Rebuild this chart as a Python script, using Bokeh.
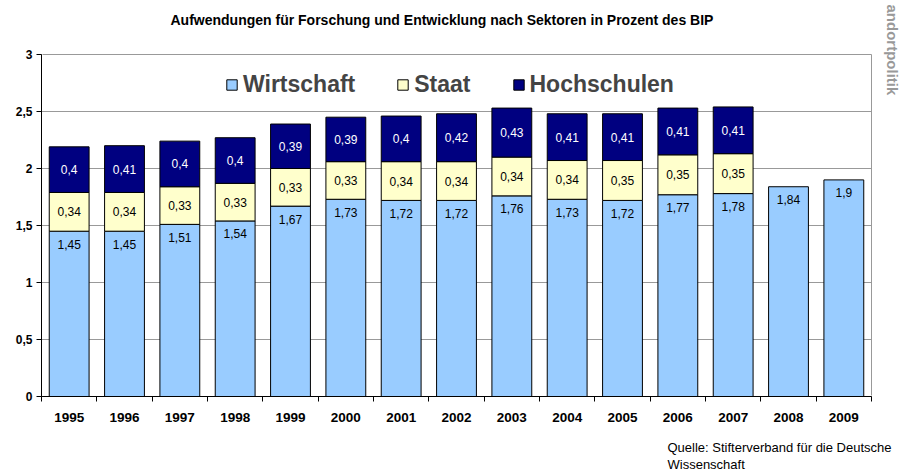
import numpy as np
from bokeh.plotting import figure
from bokeh.models import (ColumnDataSource, Range1d, FixedTicker, Legend, LegendItem, Title,
                          LinearAxis)
from bokeh.embed import file_html
from bokeh.resources import INLINE
from bokeh.core.properties import value

# ---- data ----
years = ["1995", "1996", "1997", "1998", "1999", "2000", "2001", "2002",
         "2003", "2004", "2005", "2006", "2007", "2008", "2009"]
wirtschaft = [1.45, 1.45, 1.51, 1.54, 1.67, 1.73, 1.72, 1.72, 1.76, 1.73, 1.72, 1.77, 1.78, 1.84, 1.9]
staat = [0.34, 0.34, 0.33, 0.33, 0.33, 0.33, 0.34, 0.34, 0.34, 0.34, 0.35, 0.35, 0.35, None, None]
hochschulen = [0.4, 0.41, 0.4, 0.4, 0.39, 0.39, 0.4, 0.42, 0.43, 0.41, 0.41, 0.41, 0.41, None, None]
series_names = ["Wirtschaft", "Staat", "Hochschulen"]
colors = ["#99CCFF", "#FFFFCC", "#000080"]
y_ticks = [0, 0.5, 1, 1.5, 2, 2.5, 3]
y_tick_labels = ["0", "0,5", "1", "1,5", "2", "2,5", "3"]
title_text = "Aufwendungen für Forschung und Entwicklung nach Sektoren in Prozent des BIP"
source_lines = ["Quelle: Stifterverband für die Deutsche", "Wissenschaft"]
watermark = "andortpolitik"

FONT = "Liberation Sans"

def fmt(v):
    return f"{v:g}".replace(".", ",")

n = len(years)
x = np.arange(n) + 0.5
w = np.array(wirtschaft, dtype=float)
s = np.array([np.nan if v is None else v for v in staat], dtype=float)
h = np.array([np.nan if v is None else v for v in hochschulen], dtype=float)

src = ColumnDataSource(dict(x=x, w=w, s=s, h=h))

p = figure(width=904, height=473, x_range=Range1d(0, n), y_range=Range1d(0, 3),
           output_backend="svg", toolbar_location=None,
           min_border_left=41, min_border_right=33, min_border_top=54, min_border_bottom=77)
p.background_fill_color = "white"
p.border_fill_color = "white"
p.outline_line_color = "#999999"

rs = p.vbar_stack(["w", "s", "h"], x="x", width=0.72, source=src,
                  fill_color=colors, line_color="black", line_width=1)

# value labels
mw = ~np.isnan(w)
lw = ColumnDataSource(dict(x=x[mw], y=w[mw], t=[fmt(v) for v in w[mw]]))
ms = ~np.isnan(s)
ls = ColumnDataSource(dict(x=x[ms], y=w[ms] + s[ms] / 2, t=[fmt(v) for v in s[ms]]))
mh = ~np.isnan(h)
lh = ColumnDataSource(dict(x=x[mh], y=w[mh] + s[mh] + h[mh] / 2, t=[fmt(v) for v in h[mh]]))
common = dict(text="t", text_font=value(FONT), text_font_size="12px",
              text_align="center", text_baseline="middle")
p.text(x="x", y="y", source=lw, y_offset=13, text_color="black", **common)
p.text(x="x", y="y", source=ls, text_color="black", **common)
p.text(x="x", y="y", source=lh, text_color="white", **common)

# axes
xa = p.xaxis[0]
xa.ticker = FixedTicker(ticks=list(x), minor_ticks=list(np.arange(n + 1)))
xa.major_label_overrides = {float(xi): yr for xi, yr in zip(x, years)}
xa.major_tick_out = 0
xa.major_tick_in = 0
xa.minor_tick_out = 5
xa.minor_tick_in = 0
xa.minor_tick_line_color = "black"
xa.axis_line_color = "black"
xa.major_label_text_font = FONT
xa.major_label_text_font_style = "bold"
xa.major_label_text_font_size = "13.5px"
xa.major_label_text_color = "black"
xa.major_label_standoff = 11

ya = p.yaxis[0]
ya.ticker = FixedTicker(ticks=y_ticks, minor_ticks=[])
ya.major_label_overrides = {float(t): l for t, l in zip(y_ticks, y_tick_labels)}
ya.major_tick_out = 5
ya.major_tick_in = 0
ya.major_tick_line_color = "black"
ya.axis_line_color = "black"
ya.major_label_text_font = FONT
ya.major_label_text_font_style = "bold"
ya.major_label_text_font_size = "12px"
ya.major_label_text_color = "black"
ya.major_label_standoff = 4

p.xgrid.grid_line_color = None
p.ygrid.ticker = FixedTicker(ticks=y_ticks, minor_ticks=[])
p.ygrid.grid_line_color = "#999999"
p.ygrid.grid_line_width = 1

legend = Legend(items=[LegendItem(label=nm, renderers=[r]) for nm, r in zip(series_names, rs)],
                orientation="horizontal", location=(184, 298),
                glyph_width=13, glyph_height=13,
                label_text_font=FONT, label_text_font_style="bold",
                label_text_font_size="23px", label_standoff=5, spacing=41,
                padding=0, margin=0, border_line_color=None, background_fill_alpha=0)
p.add_layout(legend)


def spacer(size, at):
    """Invisible axis (one white tick, empty label) that only reserves space in a side panel."""
    return LinearAxis(ticker=FixedTicker(ticks=[at], minor_ticks=[]), axis_line_color=None,
                      major_tick_out=size, major_tick_in=0, minor_tick_out=0, minor_tick_in=0,
                      major_tick_line_color="white", major_label_overrides={float(at): ""},
                      major_label_standoff=0, major_label_text_font_size="1px")


# title above (spacer pushes it away from the frame)
p.add_layout(spacer(27, 0.02), "above")
p.add_layout(Title(text=title_text, align="left", offset=129, standoff=0,
                   text_font=FONT, text_font_style="bold", text_font_size="14px",
                   text_color="black"), "above")
# source below
p.add_layout(spacer(13, 0.02), "below")
p.add_layout(Title(text=source_lines[0], align="left", offset=626, standoff=0,
                   text_font=FONT, text_font_style="normal", text_font_size="13px",
                   text_color="black"), "below")
p.add_layout(Title(text=source_lines[1], align="left", offset=626, standoff=0,
                   text_font=FONT, text_font_style="normal", text_font_size="13px",
                   text_color="black"), "below")
# watermark on the right
p.add_layout(spacer(12, 0.01), "right")
p.add_layout(Title(text=watermark, align="left", offset=-50, standoff=0,
                   text_font=FONT, text_font_style="bold", text_font_size="15px",
                   text_color="#999999"), "right")

open("out.html", "w").write(file_html(p, INLINE))
